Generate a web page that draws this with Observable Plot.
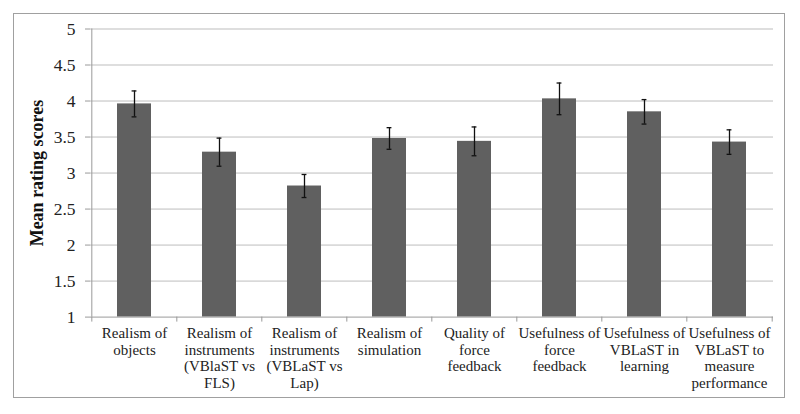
<!DOCTYPE html>
<html>
<head>
<meta charset="utf-8">
<script src="https://cdn.jsdelivr.net/npm/d3@7"></script>
<script src="https://cdn.jsdelivr.net/npm/@observablehq/plot@0.6"></script>
<style>
  html, body { margin: 0; padding: 0; background: #fff; }
  #wrap { position: relative; width: 800px; height: 414px; }
  #border { position: absolute; left: 13px; top: 13px; width: 772px; height: 385px; box-sizing: border-box; border: 1px solid #a0a0a0; pointer-events: none; }
  svg, svg text, svg g { font-family: 'Liberation Serif', 'Times New Roman', serif !important; }
</style>
</head>
<body>
<div id="wrap"><div id="border"></div></div>
<script>
const categories = [
  "Realism of\nobjects",
  "Realism of\ninstruments\n(VBlaST vs\nFLS)",
  "Realism of\ninstruments\n(VBLaST vs\nLap)",
  "Realism of\nsimulation",
  "Quality of\nforce\nfeedback",
  "Usefulness of\nforce\nfeedback",
  "Usefulness of\nVBLaST in\nlearning",
  "Usefulness of\nVBLaST to\nmeasure\nperformance"
];
const means = [3.96, 3.29, 2.82, 3.48, 3.44, 4.03, 3.85, 3.43];
const errors = [0.18, 0.195, 0.16, 0.15, 0.2, 0.22, 0.17, 0.17];
const yTicks = [1, 1.5, 2, 2.5, 3, 3.5, 4, 4.5, 5];

const data = categories.map((c, i) => ({cat: c, mean: means[i], lo: means[i] - errors[i], hi: means[i] + errors[i]}));

const W = 800, H = 414, mL = 90, mR = 27, mT = 28.5, mB = 97.4;
const bw = (W - mL - mR) / categories.length;
const capInset = (bw * 0.4 - 5) / 2;
const font = "'Liberation Serif', 'Times New Roman', serif";

const chart = Plot.plot({
  width: W, height: H,
  marginLeft: mL, marginRight: mR, marginTop: mT, marginBottom: mB,
  style: {fontFamily: font, background: "transparent", overflow: "visible"},
  x: {domain: categories, padding: 0.6, paddingOuter: 0.3, align: 0.5},
  y: {domain: [1, 5]},
  marks: [
    Plot.ruleY(yTicks.filter(d => d > 1), {stroke: "#bdbdbd", strokeWidth: 1}),
    Plot.barY(data, {x: "cat", y1: 1, y2: "mean", fill: "#606060"}),
    Plot.ruleX(data, {x: "cat", y1: "lo", y2: "hi", stroke: "#111", strokeWidth: 1.3}),
    Plot.tickY(data, {x: "cat", y: "hi", stroke: "#111", strokeWidth: 1.3, insetLeft: capInset, insetRight: capInset}),
    Plot.tickY(data, {x: "cat", y: "lo", stroke: "#111", strokeWidth: 1.3, insetLeft: capInset, insetRight: capInset}),
    Plot.ruleY([1], {stroke: "#9a9a9a", strokeWidth: 1}),
    Plot.ruleX(categories, {x: d => d, y1: 1, y2: 1, dx: -bw / 2, insetBottom: -5, stroke: "#9a9a9a"}),
    Plot.ruleX([categories[categories.length - 1]], {x: d => d, y1: 1, y2: 1, dx: bw / 2, insetBottom: -5, stroke: "#9a9a9a"}),
    Plot.ruleX(categories.slice(0, 1), {x: d => d, y1: 1, y2: 5, dx: -bw / 2, stroke: "#9a9a9a"}),
    Plot.axisY({ticks: yTicks, tickFormat: d => String(d), tickSize: 5, tickPadding: 10, fontSize: 17.5, fontFamily: font, stroke: "#9a9a9a", color: "#222", label: null}),
    Plot.axisY({ticks: [], label: "Mean rating scores", labelAnchor: "center", labelArrow: "none", labelOffset: 60, fontSize: 18, fontFamily: font, fontWeight: "bold", color: "#111"}),
    Plot.axisX({tickSize: 0, tickPadding: 9, fontSize: 15, fontFamily: font, lineHeight: 1.11, color: "#222", label: null})
  ]
});
document.getElementById("wrap").insertBefore(chart, document.getElementById("border"));
</script>
</body>
</html>
